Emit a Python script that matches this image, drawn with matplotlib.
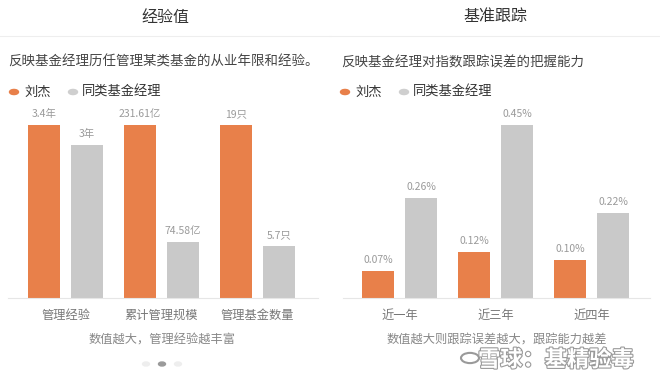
import matplotlib
matplotlib.use("Agg")
import matplotlib.pyplot as plt
import matplotlib.patheffects as pe
from matplotlib.patches import Circle
import numpy as np

plt.rcParams['font.family'] = ['Noto Sans CJK SC', 'DejaVu Sans']

W, H = 660, 375
ORANGE = "#E8804A"
GRAY = "#C9C9C9"

# ---- data ----
left_title = "经验值"
left_sub = "反映基金经理历任管理某类基金的从业年限和经验。"
left_cats = ["管理经验", "累计管理规模", "管理基金数量"]
left_liu = [3.4, 231.61, 19]
left_peer = [3.0, 74.58, 5.7]
left_liu_lbl = ["3.4年", "231.61亿", "19只"]
left_peer_lbl = ["3年", "74.58亿", "5.7只"]
left_note = "数值越大，管理经验越丰富"

right_title = "基准跟踪"
right_sub = "反映基金经理对指数跟踪误差的把握能力"
right_cats = ["近一年", "近三年", "近四年"]
right_liu = [0.07, 0.12, 0.10]
right_peer = [0.26, 0.45, 0.22]
right_note = "数值越大则跟踪误差越大，跟踪能力越差"

legend_names = ["刘杰", "同类基金经理"]

fig = plt.figure(figsize=(W / 100, H / 100), dpi=100)
fig.patch.set_facecolor("white")


def px(x, y):
    return x / W, 1 - y / H


def panel(x0, x1, c0, cats, liu, peer, liu_lbl, peer_lbl, scale):
    # bars area: baseline y=298, full height up to y=125
    ax = fig.add_axes([x0 / W, 1 - 298 / H, (x1 - x0) / W, 173 / H])
    sp = 96.0
    ax.set_xlim(-(c0 - x0) / sp, (x1 - c0) / sp)
    ax.set_ylim(0, 1)
    bw, off = 32 / sp, 21.5 / sp
    pos = np.arange(len(cats))
    h1 = [v / s for v, s in zip(liu, scale)]
    h2 = [v / s for v, s in zip(peer, scale)]
    ax.bar(pos - off, h1, bw, color=ORANGE)
    ax.bar(pos + off, h2, bw, color=GRAY)
    for xs, hs, ls in [(pos - off, h1, liu_lbl), (pos + off, h2, peer_lbl)]:
        for x, h, l in zip(xs, hs, ls):
            ax.text(x, h + 0.035, l, ha="center", va="bottom", fontsize=7.5,
                    color="#9a9a9a", clip_on=False)
    for s in ["top", "right", "left"]:
        ax.spines[s].set_visible(False)
    ax.spines["bottom"].set_color("#e6e6e6")
    ax.set_yticks([])
    ax.set_xticks(pos)
    ax.set_xticklabels(cats, fontsize=8.8, color="#777777")
    ax.tick_params(axis="x", length=0, pad=8)
    ax.patch.set_alpha(0)
    return ax


# left panel: each category scaled to its own max
panel(8, 318, 65.5, left_cats, left_liu, left_peer, left_liu_lbl, left_peer_lbl,
      [max(a, b) for a, b in zip(left_liu, left_peer)])
# right panel: one shared scale
mx = max(right_peer + right_liu)
panel(343, 650, 399.5, right_cats, right_liu, right_peer,
      [f"{v:.2f}%" for v in right_liu], [f"{v:.2f}%" for v in right_peer],
      [mx] * 3)

for cx, title, sub, sx, lx, note, nx in [
        (165, left_title, left_sub, 8, 14, left_note, 162),
        (495, right_title, right_sub, 341, 345, right_note, 497)]:
    fig.text(*px(cx, 17), title, ha="center", va="center", fontsize=11.5, color="#333333")
    fig.add_artist(plt.Line2D([(cx - 165) / W, (cx + 165) / W], [1 - 36 / H] * 2,
                              color="#eeeeee", lw=0.8))
    fig.text(*px(sx, 62), sub, ha="left", va="center", fontsize=9.7, color="#444444")
    fig.text(*px(lx + 10, 92), legend_names[0], ha="left", va="center", fontsize=9.5, color="#333333")
    fig.text(*px(lx + 68, 92), legend_names[1], ha="left", va="center", fontsize=9.5, color="#333333")
    fig.add_artist(Circle(px(lx, 92), 4.5 / W, color=ORANGE, transform=fig.transFigure))
    fig.add_artist(Circle(px(lx + 59, 92), 4.5 / W, color="#cfcfcf", transform=fig.transFigure))
    fig.text(*px(nx, 340), note, ha="center", va="center", fontsize=8.8, color="#888888")

# page dots
for x, c in [(146, "#eeeeee"), (162, "#9a9a9a"), (178, "#eeeeee")]:
    fig.add_artist(Circle(px(x, 364), 3.5 / W, color=c, transform=fig.transFigure))

# watermark
wm = fig.text(*px(556, 360), "雪球：基精验毒", ha="center", va="center", fontsize=16,
              color="white", fontweight="bold")
wm.set_path_effects([pe.withStroke(linewidth=1.6, foreground="#9a9a9a")])
fig.add_artist(Circle(px(470, 358), 9 / W, facecolor="white", edgecolor="#9a9a9a",
                      lw=1.5, transform=fig.transFigure))

fig.savefig("out.png", dpi=100)
